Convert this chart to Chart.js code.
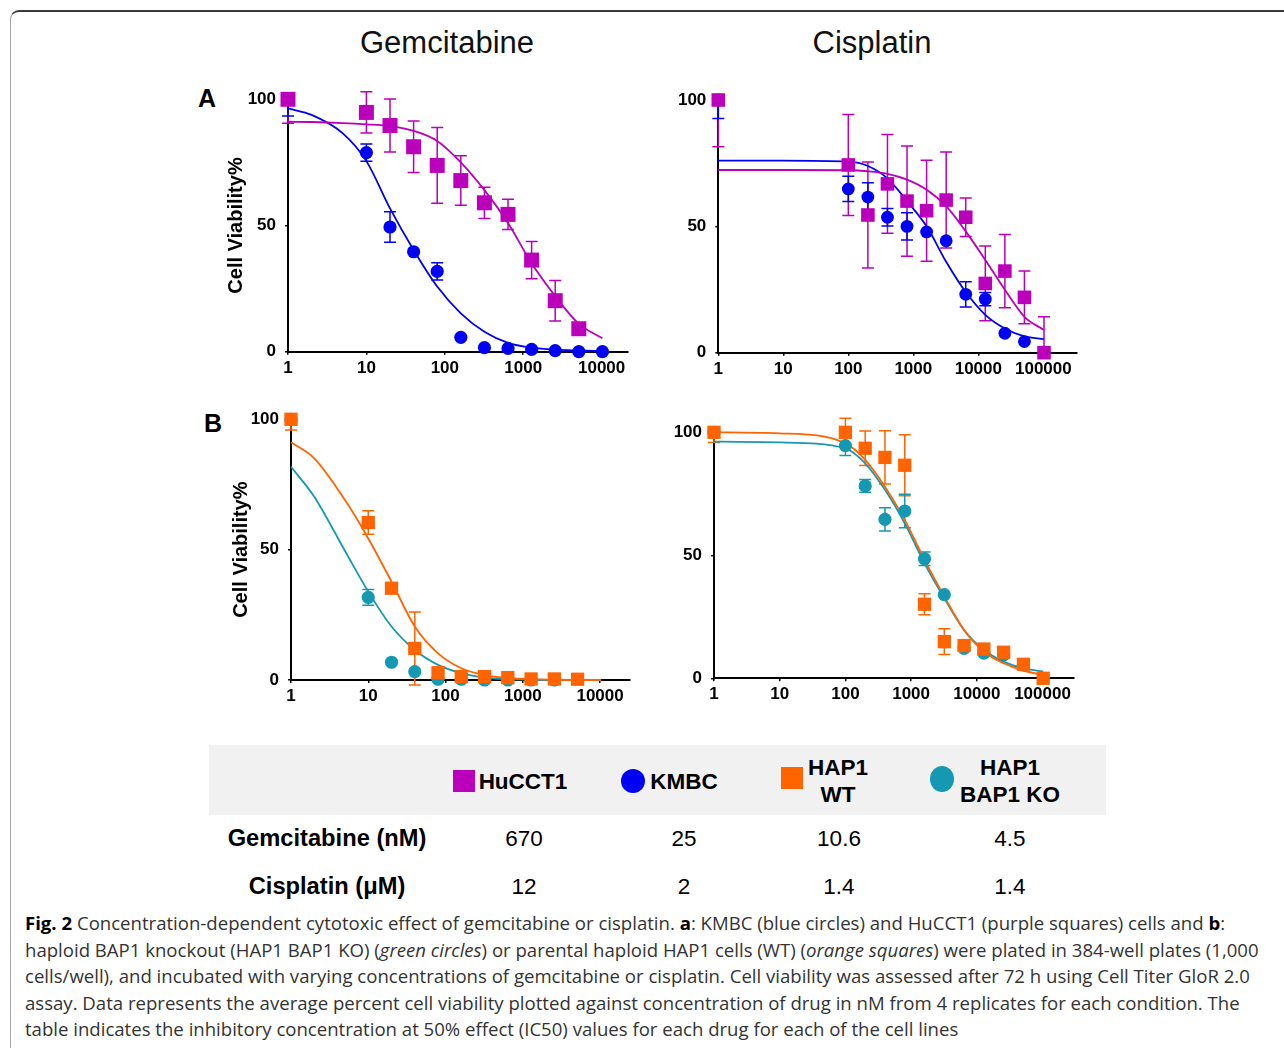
<!DOCTYPE html>
<html>
<head>
<meta charset="utf-8">
<script src="https://cdn.jsdelivr.net/npm/chart.js@4.4.1/dist/chart.umd.min.js"></script>
<style>
  body { margin: 0; width: 1284px; height: 1048px; overflow: hidden; background: #fff;
         font-family: "Liberation Sans", Arial, sans-serif; position: relative; color: #000; }
  .frame { position: absolute; left: 10px; top: 10px; width: 1300px; height: 1080px;
           border: 1px solid #a8a8a8; border-top: 2px solid #3a3a3a; border-radius: 9px; }
  .abs { position: absolute; white-space: nowrap; }
  .drug { font-size: 31px; transform: translate(-50%, -50%); color: #111; }
  .letter { font-size: 25px; font-weight: bold; transform: translate(-50%, -50%); }
  canvas { position: absolute; }
  .band { position: absolute; left: 209px; top: 745px; width: 897px; height: 70px; background: #f1f1f1; }
  .cell { font-size: 22.5px; transform: translate(-50%, -50%); text-align: center; line-height: 27px; }
  .hdr { font-weight: bold; }
  .row { font-size: 23.7px; }
  .caption { position: absolute; left: 25px; top: 910px; color: #333; font-family: "Open Sans", sans-serif;
             font-size: 17px; line-height: 26.5px; }
  .caption div { white-space: nowrap; }
  .caption b { color: #000; }
</style>
</head>
<body>
<div class="frame"></div>

<div class="abs drug" style="left:447px; top:43px">Gemcitabine</div>
<div class="abs drug" style="left:872px; top:43px">Cisplatin</div>
<div class="abs letter" style="left:207px; top:98px">A</div>
<div class="abs letter" style="left:213px; top:423px">B</div>

<canvas id="gemA" width="450" height="310" style="left:190px; top:70px"></canvas>
<canvas id="cisA" width="430" height="310" style="left:660px; top:70px"></canvas>
<canvas id="gemB" width="450" height="315" style="left:190px; top:395px"></canvas>
<canvas id="cisB" width="430" height="310" style="left:660px; top:400px"></canvas>

<div class="band"></div>
<div id="table"></div>

<div class="caption" id="caption">
  <div><b>Fig. 2</b> Concentration-dependent cytotoxic effect of gemcitabine or cisplatin. <b>a</b>: KMBC (blue circles) and HuCCT1 (purple squares) cells and <b>b</b>:</div>
  <div><span id="probe">haploid BAP1 knockout (HAP1 BAP1 KO) (<i>green circles</i>) or parental haploid HAP1 cells (WT) (<i>orange squares</i>) were plated in 384-well plates (1,000</span></div>
  <div>cells/well), and incubated with varying concentrations of gemcitabine or cisplatin. Cell viability was assessed after 72 h using Cell Titer GloR 2.0</div>
  <div>assay. Data represents the average percent cell viability plotted against concentration of drug in nM from 4 replicates for each condition. The</div>
  <div>table indicates the inhibitory concentration at 50% effect (IC50) values for each drug for each of the cell lines</div>
</div>

<script>
// ---- concentrations ----
const gemConc = [1, 10, 20, 40, 80, 160, 320, 640, 1280, 2560, 5120, 10240];
const cisConc = [1, 100, 200, 400, 800, 1600, 3200, 6400, 12800, 25600, 51200, 102400];

// ---- A: Gemcitabine, HuCCT1 (squares) and KMBC (circles) ----
const hucctGem    = [100, 94.8, 89.6, 81.2, 73.8, 67.8, 59.0, 54.4, 36.3, 20.2, 9.1, null];
const hucctGemErr = [[9.5, 0], [8.2, 8.2], [10.5, 10.5], [10.2, 10.2], [15, 15], [9.8, 9.8], [6.2, 6.2], [6, 6], [7.4, 7.4], [8, 8], null, null];
const kmbcGem     = [100, 78.9, 49.4, 39.6, 31.8, 5.7, 1.6, 1.3, 0.9, 0.4, 0, 0];
const kmbcGemErr  = [[6.6, 0], [3.4, 3.4], [6, 6], null, [3.4, 3.4], null, null, null, null, null, null, null];

// ---- A: Cisplatin ----
const hucctCis    = [100, 74.3, 54.5, 66.8, 60.0, 56.2, 60.4, 53.6, 27.4, 32.3, 21.9, 0];
const hucctCisErr = [[18.5, 0], [20, 20], [21, 21], [19.5, 19.5], [21.8, 21.8], [20, 20], [19, 19], [7.6, 7.6], [14.8, 14.8], [14.5, 14.5], [10.4, 10.4], [0, 14.2]];
const kmbcCis     = [100, 64.8, 61.6, 53.6, 50.0, 47.8, 44.3, 23.1, 21.2, 7.7, 4.4, null];
const kmbcCisErr  = [[7.3, 0], [5, 5], [5.7, 5.7], [3.5, 3.5], [5.4, 5.4], null, null, [5, 5], [2.6, 2.6], null, null, null];

// ---- B: Gemcitabine, HAP1 WT (squares) and HAP1 BAP1 KO (circles) ----
const wtGem     = [100, 60.4, 35.2, 12.1, 2.8, 1.3, 1.3, 0.9, 0.4, 0.4, 0.3, null];
const wtGemErr  = [[4.1, 0], [4.5, 4.5], null, [14, 14], null, null, null, null, null, null, null, null];
const koGem     = [100, 31.7, 6.8, 3.2, 0.3, 0.3, 0, 0, 0, 0, null, null];
const koGemErr  = [null, [3, 3], null, null, null, null, null, null, null, null, null, null];

// ---- B: Cisplatin ----
const wtCis     = [100, 100, 93.5, 89.8, 86.6, 30.1, 14.9, 13.3, 11.9, 10.6, 5.7, 0];
const wtCisErr  = [[4.1, 0], [5.7, 5.7], [7, 7], [10.8, 10.8], [12.4, 12.4], [4.3, 4.3], [5.2, 5.2], null, null, null, null, null];
const koCis     = [100, 94.6, 78.2, 64.6, 68.0, 48.6, 34.0, 12.2, 10.2, 9.5, 5.4, null];
const koCisErr  = [null, [4, 4], [2.6, 2.6], [4.7, 4.7], [6.8, 6.8], [2.7, 2.7], null, null, null, null, null, null];

// ---- fitted curves ----
const gemCurveX   = [1, 2, 5, 10, 20, 40, 80, 160, 320, 640, 1280, 2560, 5120, 10240];
const hucctGemFit = [91.1, 91, 90.6, 90.1, 89.4, 87.5, 83.5, 75, 64, 51, 35, 22, 11, 5.3];
const kmbcGemFit  = [96.4, 93.8, 86.5, 75.5, 56.8, 40.3, 25.8, 15.2, 7.9, 3.5, 1.6, 0.8, 0.5, 0.3];
const wtGemFit    = [91.2, 85, 69, 54.3, 37.7, 20.5, 10.2, 4.5, 1.9, 0.8, 0.3, 0.1, 0, 0];
const koGemFit    = [81.8, 70.3, 49.5, 33.9, 20.5, 11.5, 5.8, 2.6, 0.9, 0.3, 0.1, 0, 0, 0];

const cisCurveX   = [1, 10, 100, 200, 400, 800, 1600, 3200, 6400, 12800, 25600, 51200, 102400];
const hucctCisFit = [72.3, 72.3, 72.2, 71.8, 70.8, 68.5, 64.5, 58, 48, 36.7, 24.9, 14.2, 9];
const kmbcCisFit  = [76, 76, 75.6, 73.9, 69, 60, 50, 36, 24, 15, 9.6, 6.5, 5.4];
const wtCisFit    = [100, 99.6, 95.5, 88.8, 77.9, 64.4, 48.1, 33.2, 19.6, 10.8, 6.1, 3.1, 1.4];
const koCisFit    = [96.2, 95.9, 93.5, 87.4, 76.6, 63, 46.7, 32.5, 19.6, 11.5, 6.8, 4.1, 2.7];

// ---- axis ticks ----
const gemTicks = [1, 10, 100, 1000, 10000];
const cisTicks = [1, 10, 100, 1000, 10000, 100000];
const yTicks = [0, 50, 100];

// ---- IC50 table ----
const cellLines = [["HuCCT1"], ["KMBC"], ["HAP1", "WT"], ["HAP1", "BAP1 KO"]];
const rowLabels = ["Gemcitabine (nM)", "Cisplatin (\u03bcM)"];
const gemIC50 = ["670", "25", "10.6", "4.5"];
const cisIC50 = ["12", "2", "1.4", "1.4"];

const PURPLE = "#ba00ba", BLUE = "#0000f2", ORANGE = "#ff6400", TEAL = "#1598b2";

Chart.defaults.font.family = '"Liberation Sans", Arial, sans-serif';
Chart.defaults.color = "#000";

function points(xs, ys, errs) {
  const data = [], errors = [];
  xs.forEach((x, i) => {
    if (ys[i] === null || ys[i] === undefined) return;
    data.push({ x: x, y: ys[i] });
    errors.push(errs ? errs[i] : null);
  });
  return { data, errors };
}

function markers(xs, ys, errs, color, style, r) {
  const p = points(xs, ys, errs);
  return { data: p.data, errors: p.errors, errorColor: color, pointStyle: style, pointRadius: r,
           backgroundColor: color, borderColor: color, borderWidth: 0, showLine: false, clip: false };
}

function curve(xs, ys, color) {
  return { data: points(xs, ys).data, showLine: true, pointRadius: 0, borderColor: color,
           borderWidth: 1.8, cubicInterpolationMode: "monotone", fill: false, clip: false };
}

const errorBars = {
  id: "errorBars",
  beforeDatasetsDraw(chart) {
    const ctx = chart.ctx, ys = chart.scales.y;
    chart.data.datasets.forEach((ds, i) => {
      if (!ds.errors) return;
      const meta = chart.getDatasetMeta(i);
      ctx.save();
      ctx.strokeStyle = ds.errorColor;
      ctx.lineWidth = 1.5;
      meta.data.forEach((pt, j) => {
        const e = ds.errors[j];
        if (!e) return;
        const v = ds.data[j].y;
        const yLo = ys.getPixelForValue(v - e[0]);
        const yHi = ys.getPixelForValue(v + e[1]);
        ctx.beginPath();
        ctx.moveTo(pt.x, yHi); ctx.lineTo(pt.x, yLo);
        if (e[0] > 0) { ctx.moveTo(pt.x - 6, yLo); ctx.lineTo(pt.x + 6, yLo); }
        if (e[1] > 0) { ctx.moveTo(pt.x - 6, yHi); ctx.lineTo(pt.x + 6, yHi); }
        ctx.stroke();
      });
      ctx.restore();
    });
  }
};

function panel(id, box, area, xMax, xTicks, titlePad, datasets) {
  const ctx = document.getElementById(id).getContext("2d");
  const tickFont = { size: 17, weight: "bold" };
  return new Chart(ctx, {
    type: "scatter",
    data: { datasets },
    options: {
      responsive: false,
      animation: false,
      events: [],
      layout: { padding: { left: 0, bottom: 0, top: area.top - box.top, right: box.left + box.w - area.right } },
      plugins: { legend: { display: false }, tooltip: { enabled: false } },
      scales: {
        x: {
          type: "logarithmic", min: 1, max: xMax, bounds: "data",
          afterBuildTicks: s => { s.ticks = xTicks.map(v => ({ value: v })); },
          afterFit: s => { s.height = box.top + box.h - area.bottom; },
          ticks: { font: tickFont, color: "#000", padding: 3, autoSkip: false, maxRotation: 0, minRotation: 0,
                   callback: v => String(v) },
          grid: { display: true, drawOnChartArea: false, drawTicks: true, tickLength: 3, color: "#000", lineWidth: 1.5 },
          border: { display: true, color: "#000", width: 2 }
        },
        y: {
          min: 0, max: 100,
          afterBuildTicks: s => { s.ticks = yTicks.map(v => ({ value: v })); },
          afterFit: s => { s.width = area.left - box.left; },
          ticks: { font: tickFont, color: "#000", padding: 9 },
          grid: { display: true, drawOnChartArea: false, drawTicks: true, tickLength: 3, color: "#000", lineWidth: 1.5 },
          border: { display: true, color: "#000", width: 2 },
          title: { display: titlePad !== null, text: "Cell Viability%", color: "#000",
                   font: { size: 20, weight: "bold" }, padding: { top: titlePad || 0, bottom: 0 } }
        }
      }
    },
    plugins: [errorBars]
  });
}

panel("gemA", { left: 190, top: 70, w: 450, h: 310 }, { left: 288, top: 99.3, right: 628, bottom: 351.7 },
  21700, gemTicks, 34, [
    markers(gemConc, hucctGem, hucctGemErr, PURPLE, "rect", 10.6),
    markers(gemConc, kmbcGem, kmbcGemErr, BLUE, "circle", 6.6),
    curve(gemCurveX, hucctGemFit, PURPLE),
    curve(gemCurveX, kmbcGemFit, BLUE)
  ]);

panel("cisA", { left: 660, top: 70, w: 430, h: 310 }, { left: 718.3, top: 100, right: 1076.7, bottom: 352.7 },
  326000, cisTicks, null, [
    markers(cisConc, hucctCis, hucctCisErr, PURPLE, "rect", 9.6),
    markers(cisConc, kmbcCis, kmbcCisErr, BLUE, "circle", 6.4),
    curve(cisCurveX, hucctCisFit, PURPLE),
    curve(cisCurveX, kmbcCisFit, BLUE)
  ]);

panel("gemB", { left: 190, top: 395, w: 450, h: 315 }, { left: 291, top: 419.3, right: 630, bottom: 680 },
  24400, gemTicks, 39, [
    markers(gemConc, wtGem, wtGemErr, ORANGE, "rect", 9.4),
    markers(gemConc, koGem, koGemErr, TEAL, "circle", 6.6),
    curve(gemCurveX, wtGemFit, ORANGE),
    curve(gemCurveX, koGemFit, TEAL)
  ]);

panel("cisB", { left: 660, top: 400, w: 430, h: 310 }, { left: 714, top: 432.3, right: 1073.3, bottom: 678.3 },
  294000, cisTicks, null, [
    markers(cisConc, wtCis, wtCisErr, ORANGE, "rect", 9.4),
    markers(cisConc, koCis, koCisErr, TEAL, "circle", 6.6),
    curve(cisCurveX, wtCisFit, ORANGE),
    curve(cisCurveX, koCisFit, TEAL)
  ]);

// ---- IC50 table ----
const table = document.getElementById("table");
function addDiv(html, cls, style) {
  const d = document.createElement("div");
  d.className = cls;
  d.innerHTML = html;
  d.setAttribute("style", style);
  table.appendChild(d);
  return d;
}
const markerStyle = [
  "left:453px; top:770px; width:22px; height:22px; background:" + PURPLE,
  "left:621px; top:769px; width:24px; height:24px; border-radius:50%; background:" + BLUE,
  "left:781px; top:767px; width:22px; height:22px; background:" + ORANGE,
  "left:930px; top:766px; width:24px; height:26px; border-radius:50%; background:" + TEAL
];
const labelPos = [[523, 781], [684, 781], [838, 781], [1010, 781]];
const valueX = [524, 684, 839, 1010];
cellLines.forEach((name, i) => {
  addDiv("", "abs", markerStyle[i]);
  addDiv(name.join("<br>"), "abs cell hdr", "left:" + labelPos[i][0] + "px; top:" + labelPos[i][1] + "px");
  addDiv(gemIC50[i], "abs cell", "left:" + valueX[i] + "px; top:838px");
  addDiv(cisIC50[i], "abs cell", "left:" + valueX[i] + "px; top:886px");
});
addDiv(rowLabels[0], "abs cell hdr row", "left:327px; top:838px");
addDiv(rowLabels[1], "abs cell hdr row", "left:327px; top:886px");

// fit caption width to the figure's line length
const probe = document.getElementById("probe");
const w = probe.getBoundingClientRect().width;
document.getElementById("caption").style.fontSize = (17 * 1235 / w) + "px";
</script>
</body>
</html>
